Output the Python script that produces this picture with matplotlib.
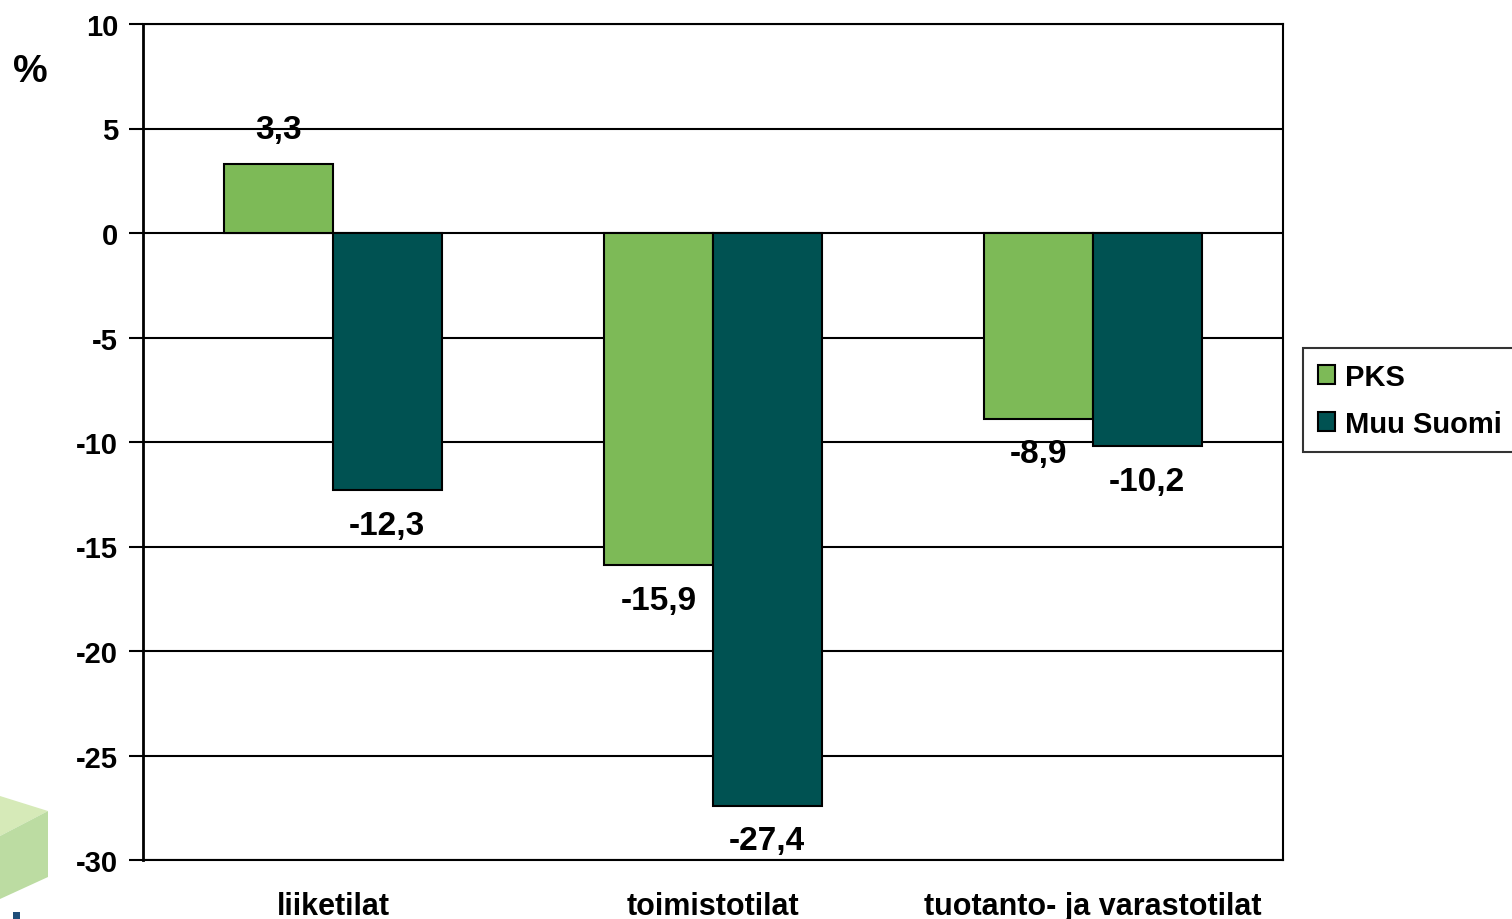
import numpy as np
import matplotlib.pyplot as plt
from matplotlib.patches import Polygon

plt.rcParams['font.family'] = ['Liberation Sans', 'DejaVu Sans']
plt.rcParams['font.weight'] = 'bold'

# data
kategoriat = ['liiketilat', 'toimistotilat', 'tuotanto- ja varastotilat']
pks = [3.3, -15.9, -8.9]
muu_suomi = [-12.3, -27.4, -10.2]
sarjat = ['PKS', 'Muu Suomi']
yticks = [10, 5, 0, -5, -10, -15, -20, -25, -30]

fig = plt.figure(figsize=(15.12, 9.2), dpi=100)
ax = fig.add_axes([143/1512, 1-861/920, 1140/1512, 836/920])

x = np.arange(len(kategoriat))
w = 0.2857
b1 = ax.bar(x - w/2, pks, w, color='#7dba57', edgecolor='black', linewidth=1.5, label=sarjat[0], zorder=3)
b2 = ax.bar(x + w/2, muu_suomi, w, color='#005252', edgecolor='black', linewidth=1.5, label=sarjat[1], zorder=3)

def arvot(bars, vals):
    for r, v in zip(bars, vals):
        xc = r.get_x() + r.get_width()/2
        txt = ('%.1f' % v).replace('.', ',')
        if v >= 0:
            ax.annotate(txt, (xc, v), xytext=(0, 14), textcoords='offset points',
                        ha='center', va='bottom', fontsize=24, fontweight='bold')
        else:
            ax.annotate(txt, (xc, v), xytext=(0, -14), textcoords='offset points',
                        ha='center', va='top', fontsize=24, fontweight='bold')

arvot(b1, pks)
arvot(b2, muu_suomi)

ax.set_xlim(-0.5, 2.5)
ax.set_ylim(-30, 10)
ax.set_yticks(yticks)
ax.set_yticklabels([str(t) for t in yticks], fontsize=21, fontweight='bold')
ax.set_xticks(x)
ax.set_xticklabels(kategoriat, fontsize=22, fontweight='bold')
ax.tick_params(axis='x', length=0, pad=22)
ax.tick_params(axis='y', length=10, width=1.5, pad=8)
ax.yaxis.grid(True, color='black', linewidth=1.5, zorder=0)
ax.set_axisbelow(True)
for s in ax.spines.values():
    s.set_linewidth(1.5)
ax.spines['left'].set_linewidth(2)

fig.text(30/1512, 1-72/920, '%', fontsize=28, fontweight='bold', ha='center', va='center')

leg = ax.legend(loc='upper left', bbox_to_anchor=(1303/1512, 1-349/920),
                bbox_transform=fig.transFigure, fontsize=21, frameon=True,
                fancybox=False, edgecolor='black', handlelength=0.6, handleheight=0.6,
                handletextpad=0.35, borderpad=0.5, labelspacing=0.65, borderaxespad=0)
leg.get_frame().set_linewidth(1.5)

# logo-laatikko vasemmassa alakulmassa
W, H = 1512, 920
def fp(pts):
    return [(px/W, 1-py/H) for px, py in pts]
fig.patches.append(Polygon(fp([(0, 797), (48, 812), (0, 837)]), closed=True,
                           facecolor='#d6eab8', edgecolor='none', transform=fig.transFigure))
fig.patches.append(Polygon(fp([(0, 837), (48, 812), (48, 878), (0, 900)]), closed=True,
                           facecolor='#bcdca2', edgecolor='none', transform=fig.transFigure))
fig.patches.append(Polygon(fp([(13, 913), (20, 913), (20, 920), (13, 920)]), closed=True,
                           facecolor='#1f4e79', edgecolor='none', transform=fig.transFigure))

plt.savefig('out.png', dpi=100)
